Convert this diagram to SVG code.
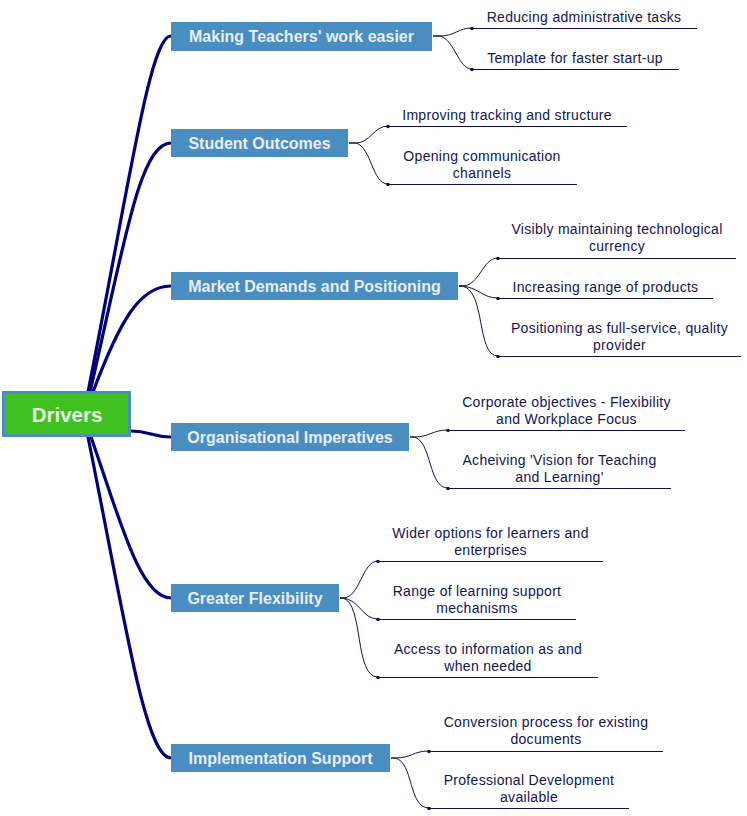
<svg xmlns="http://www.w3.org/2000/svg" width="747" height="816" viewBox="0 0 747 816">
<style>
.bg{fill:#ffffff}
.box{fill:#4a8dc0}
.btxt{font-family:"Liberation Sans",Arial,sans-serif;font-weight:bold;font-size:16px;fill:#e9eef6;text-anchor:middle}
.main{fill:none;stroke:#00007a;stroke-width:3.2;stroke-linecap:round}
.sub{fill:none;stroke:#10104a;stroke-width:1}
.ul{stroke:#10104a;stroke-width:1.2}
.dot{fill:#10104a}
.ltxt{font-family:"Liberation Sans",Arial,sans-serif;font-size:14px;letter-spacing:0.3px;fill:#141450;text-anchor:middle}
</style>
<rect class="bg" x="0" y="0" width="747" height="816"/>
<g id="connectors">
<path class="main" d="M88 392 C130 180 150 36 171 36"/>
<path class="main" d="M90 392 C125 240 140 143 171 143"/>
<path class="main" d="M93 392 C120 320 140 286 171 286"/>
<path class="main" d="M131 431 C150 431 152 437 171 437"/>
<path class="main" d="M91 437 C120 520 140 598 171 598"/>
<path class="main" d="M88 437 C125 620 145 758 171 758"/>
<path class="sub" d="M433 36 H440 C455 36 458 28 472 28"/>
<path class="sub" d="M433 36 H440 C455 40 458 69 472 69"/>
<path class="sub" d="M349 143 H356 C370 143 374 126 388 126"/>
<path class="sub" d="M349 143 H356 C372 148 372 184 388 184"/>
<path class="sub" d="M459 286 H462 C480 286 482 258 498 258"/>
<path class="sub" d="M459 286 H462 C480 288 482 298 498 298"/>
<path class="sub" d="M459 286 H462 C486 290 476 356 498 356"/>
<path class="sub" d="M410 437 H414 C430 437 432 430 448 430"/>
<path class="sub" d="M410 437 H414 C432 441 428 488 448 488"/>
<path class="sub" d="M340 598 H343 C360 598 362 561 378 561"/>
<path class="sub" d="M340 598 H343 C360 600 362 619 378 619"/>
<path class="sub" d="M340 598 H343 C364 604 354 677 378 677"/>
<path class="sub" d="M391 758 H395 C412 758 413 751 429 751"/>
<path class="sub" d="M391 758 H395 C414 762 408 808 429 808"/>
</g>
<g id="root">
<rect x="2" y="391" width="129" height="46" fill="#4a8dc0"/>
<rect x="5" y="394" width="123" height="40" fill="#3fc21f"/>
<text x="67" y="422" font-family="Liberation Sans,Arial,sans-serif" font-weight="bold" font-size="20.5" fill="#e8f5e4" text-anchor="middle">Drivers</text>
</g>
<g id="n1"><rect class="box" x="171" y="22" width="261" height="29"/><text class="btxt" x="301.5" y="42">Making Teachers' work easier</text></g>
<g id="n2"><rect class="box" x="171" y="129" width="177" height="28"/><text class="btxt" x="259.5" y="148.5">Student Outcomes</text></g>
<g id="n3"><rect class="box" x="171" y="272" width="287" height="28"/><text class="btxt" x="314.5" y="291.5">Market Demands and Positioning</text></g>
<g id="n4"><rect class="box" x="171" y="423" width="238" height="28"/><text class="btxt" x="290" y="442.5">Organisational Imperatives</text></g>
<g id="n5"><rect class="box" x="171" y="584" width="168" height="28"/><text class="btxt" x="255" y="603.5">Greater Flexibility</text></g>
<g id="n6"><rect class="box" x="171" y="744" width="219" height="28"/><text class="btxt" x="280.5" y="763.5">Implementation Support</text></g>

<g id="l1a"><line class="ul" x1="472" y1="28.5" x2="697" y2="28.5"/><circle class="dot" cx="472" cy="28.5" r="1.8"/><text class="ltxt" x="584" y="21.5">Reducing administrative tasks</text></g>
<g id="l1b"><line class="ul" x1="472" y1="69.5" x2="679" y2="69.5"/><circle class="dot" cx="472" cy="69.5" r="1.8"/><text class="ltxt" x="575" y="62.5">Template for faster start-up</text></g>
<g id="l2a"><line class="ul" x1="388" y1="126.5" x2="627" y2="126.5"/><circle class="dot" cx="388" cy="126.5" r="1.8"/><text class="ltxt" x="507" y="119.5">Improving tracking and structure</text></g>
<g id="l2b"><line class="ul" x1="388" y1="184.5" x2="577" y2="184.5"/><circle class="dot" cx="388" cy="184.5" r="1.8"/><text class="ltxt" x="482" y="160.5">Opening communication</text><text class="ltxt" x="482" y="177.5">channels</text></g>
<g id="l3a"><line class="ul" x1="498" y1="258.5" x2="736" y2="258.5"/><circle class="dot" cx="498" cy="258.5" r="1.8"/><text class="ltxt" x="617" y="233.5">Visibly maintaining technological</text><text class="ltxt" x="617" y="250.5">currency</text></g>
<g id="l3b"><line class="ul" x1="498" y1="298.5" x2="713" y2="298.5"/><circle class="dot" cx="498" cy="298.5" r="1.8"/><text class="ltxt" x="605.5" y="291.5">Increasing range of products</text></g>
<g id="l3c"><line class="ul" x1="498" y1="356.5" x2="741" y2="356.5"/><circle class="dot" cx="498" cy="356.5" r="1.8"/><text class="ltxt" x="619.5" y="332.5">Positioning as full-service, quality</text><text class="ltxt" x="619.5" y="349.5">provider</text></g>
<g id="l4a"><line class="ul" x1="448" y1="430.5" x2="685" y2="430.5"/><circle class="dot" cx="448" cy="430.5" r="1.8"/><text class="ltxt" x="566.5" y="406.5">Corporate objectives - Flexibility</text><text class="ltxt" x="566.5" y="423.5">and Workplace Focus</text></g>
<g id="l4b"><line class="ul" x1="448" y1="488.5" x2="671" y2="488.5"/><circle class="dot" cx="448" cy="488.5" r="1.8"/><text class="ltxt" x="559.5" y="464.5">Acheiving 'Vision for Teaching</text><text class="ltxt" x="559.5" y="481.5">and Learning'</text></g>
<g id="l5a"><line class="ul" x1="378" y1="561.5" x2="603" y2="561.5"/><circle class="dot" cx="378" cy="561.5" r="1.8"/><text class="ltxt" x="490.5" y="537.5">Wider options for learners and</text><text class="ltxt" x="490.5" y="554.5">enterprises</text></g>
<g id="l5b"><line class="ul" x1="378" y1="619.5" x2="576" y2="619.5"/><circle class="dot" cx="378" cy="619.5" r="1.8"/><text class="ltxt" x="477" y="595.5">Range of learning support</text><text class="ltxt" x="477" y="612.5">mechanisms</text></g>
<g id="l5c"><line class="ul" x1="378" y1="677.5" x2="598" y2="677.5"/><circle class="dot" cx="378" cy="677.5" r="1.8"/><text class="ltxt" x="488" y="653.5">Access to information as and</text><text class="ltxt" x="488" y="670.5">when needed</text></g>
<g id="l6a"><line class="ul" x1="429" y1="751.5" x2="663" y2="751.5"/><circle class="dot" cx="429" cy="751.5" r="1.8"/><text class="ltxt" x="546" y="726.5">Conversion process for existing</text><text class="ltxt" x="546" y="743.5">documents</text></g>
<g id="l6b"><line class="ul" x1="429" y1="808.5" x2="629" y2="808.5"/><circle class="dot" cx="429" cy="808.5" r="1.8"/><text class="ltxt" x="529" y="784.5">Professional Development</text><text class="ltxt" x="529" y="801.5">available</text></g>
</svg>
